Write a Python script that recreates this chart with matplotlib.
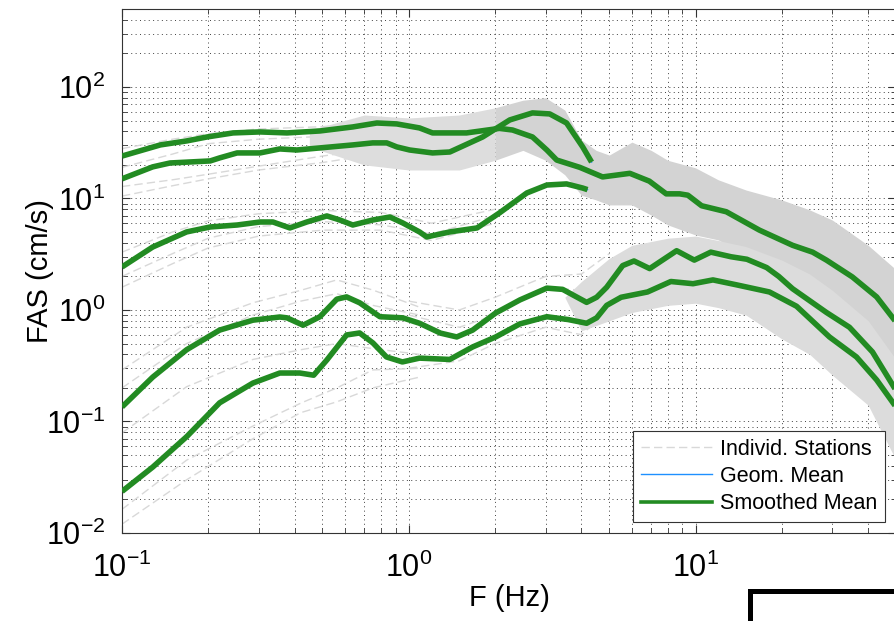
import matplotlib
matplotlib.use("Agg")
import matplotlib.pyplot as plt
from matplotlib.lines import Line2D
from matplotlib.ticker import LogLocator, LogFormatterSciNotation, NullFormatter

plt.rcParams['font.family'] = ['Liberation Sans', 'DejaVu Sans']
plt.rcParams['axes.unicode_minus'] = False

# smoothed means (Hz, cm/s)
f_a = [0.1, 0.136, 0.168, 0.198, 0.244, 0.303, 0.376, 0.49, 0.638, 0.774, 0.908, 1.09, 1.21, 1.59, 2.07,
       2.3, 2.7, 3.03, 3.28, 3.95, 4.74, 5.9, 6.9, 7.9, 8.8, 9.4, 10.5, 12.8, 16.7, 21.8, 25.6, 28.6,
       35.2, 42.8, 50]
fas_a = [24, 30.2, 32.8, 35.6, 38.7, 39.5, 38.7, 40.3, 43.8, 47.5, 46.6, 42.9, 38.7, 38.7, 42.5,
         41.1, 35.6, 27.2, 22.1, 19.0, 15.6, 16.8, 14.3, 11.0, 11.0, 10.7, 8.6, 7.6, 5.2, 3.8, 3.3, 2.8,
         1.98, 1.31, 0.78]

f_b = [0.1, 0.128, 0.147, 0.203, 0.219, 0.252, 0.303, 0.355, 0.407, 0.49, 0.638, 0.749, 0.838, 0.908,
       1.007, 1.21, 1.39, 1.81, 2.25, 2.7, 3.1, 3.55, 4.04, 4.34]
fas_b = [15, 19.2, 20.8, 21.7, 23.1, 25.6, 25.6, 27.8, 27.2, 28.4, 30.2, 31.5, 31.5, 29.0,
         27.2, 25.6, 26.1, 35.6, 50.6, 58.5, 57.3, 47.5, 29.0, 21.2]

f_c = [0.1, 0.128, 0.168, 0.203, 0.252, 0.303, 0.336, 0.385, 0.441, 0.518, 0.575, 0.638, 0.749, 0.859,
       0.953, 1.09, 1.155, 1.39, 1.73, 2.07, 2.58, 3.03, 3.55, 4.04, 4.2]
fas_c = [2.43, 3.67, 5.01, 5.55, 5.78, 6.15, 6.15, 5.44, 6.15, 6.97, 6.41, 5.78, 6.41, 6.82,
         6.03, 5.01, 4.52, 5.01, 5.44, 7.41, 11.2, 13.2, 13.5, 12.4, 12.0]

f_d = [0.1, 0.128, 0.168, 0.219, 0.286, 0.355, 0.376, 0.428, 0.49, 0.561, 0.607, 0.674, 0.793, 0.953,
       1.09, 1.29, 1.47, 1.67, 2.01, 2.44, 3.03, 3.44, 4.17, 4.52, 4.9, 5.57, 6.1, 6.92, 8.59, 9.9,
       11.3, 13.3, 15.1, 17.7, 19.5, 21.8, 28.6, 34.4, 41.4, 50]
fas_d = [0.135, 0.25, 0.44, 0.66, 0.81, 0.865, 0.85, 0.73, 0.87, 1.25, 1.31, 1.16, 0.87, 0.85,
         0.76, 0.62, 0.573, 0.66, 0.94, 1.23, 1.57, 1.53, 1.17, 1.3, 1.6, 2.5, 2.75, 2.35, 3.4, 2.8,
         3.3, 3.0, 2.85, 2.4, 2.0, 1.55, 0.95, 0.7, 0.42, 0.19]

f_e = [0.1, 0.128, 0.168, 0.219, 0.286, 0.355, 0.417, 0.466, 0.518, 0.607, 0.674, 0.75, 0.836, 0.95,
       1.09, 1.39, 1.67, 2.01, 2.44, 3.03, 3.6, 4.17, 4.52, 4.9, 5.5, 6.8, 8.2, 9.8, 11.5, 13.9,
       18.1, 22.5, 29.3, 36.4, 42.8, 50]
fas_e = [0.0236, 0.039, 0.073, 0.147, 0.221, 0.272, 0.272, 0.26, 0.356, 0.597, 0.622, 0.506, 0.379,
         0.342, 0.37, 0.36, 0.466, 0.573, 0.75, 0.87, 0.82, 0.76, 0.85, 1.1, 1.3, 1.45, 1.8, 1.72,
         1.86, 1.68, 1.45, 1.08, 0.573, 0.379, 0.236, 0.135]

# spread of individual stations where they form a dense band
f_band_soft = [0.45, 0.7, 1.0, 1.5, 2.0]
band_soft_top = [41, 56, 52.7, 56, 65]
band_soft_bot = [29, 20, 18, 18, 22]

f_band_hi = [2.0, 2.5, 3.0, 3.5, 4.0, 4.5, 5.0, 6.0, 7.0, 8.0, 10, 12, 15, 20, 25, 30, 40, 50]
band_hi_top = [65, 76, 80, 62, 33.5, 27, 24.5, 32, 27, 22, 18.8, 14.7, 11.9, 9.7, 7.9, 6.4, 3.8, 2.3]
band_hi_bot = [22, 27, 22, 16.3, 10.7, 9.7, 8.75, 8.75, 7.1, 5.8, 4.7, 4.25, 3.1, 2.3, 1.67, 1.23,
               0.54, 0.1]

f_band_lo = [3.5, 4, 5, 6, 8, 10, 12, 15, 20, 25, 30, 40, 50]
band_lo_top = [1.3, 1.8, 2.9, 3.8, 4.4, 4.6, 4.2, 3.7, 2.8, 2.1, 1.5, 0.8, 0.36]
band_lo_bot = [1.3, 0.65, 0.8, 0.95, 1.1, 1.15, 1.05, 0.9, 0.55, 0.4, 0.26, 0.14, 0.045]

# a few individual station records at low frequency
f_st = [0.1, 0.15, 0.2, 0.3, 0.5, 0.7]
st_top = [[28, 34, 38, 42, 44, 48],
          [19, 25, 31, 34, 36, 40],
          [12.8, 14.7, 16.5, 19.5, 24, 27],
          [10.5, 13, 15, 18, 21, 24]]
f_st_c = [0.1, 0.15, 0.2, 0.3, 0.5, 0.8, 1.2, 2.0]
st_c = [[3.3, 5.0, 6.3, 7.3, 7.8, 7.5, 6.0, 8.0],
        [1.6, 2.6, 3.6, 4.6, 5.2, 5.2, 4.2, 6.0],
        [2.0, 3.2, 4.4, 5.6, 6.2, 5.8, 4.8, 7.0]]
f_st_de = [0.1, 0.168, 0.286, 0.42, 0.561, 0.749, 1.09]
st_de = [[0.29, 0.70, 1.16, 1.5, 1.86, 1.51, 1.06],
         [0.2, 0.5, 0.9, 1.2, 1.4, 1.1, 0.9],
         [0.079, 0.205, 0.36, 0.44, 0.5, 0.45, 0.4],
         [0.0163, 0.045, 0.091, 0.146, 0.2, 0.29, 0.3],
         [0.012, 0.03, 0.07, 0.12, 0.15, 0.2, 0.25]]
f_st_de2 = [1.0, 1.5, 2.0, 3.0, 4.0, 5.0]
st_de2 = [[0.9, 0.7, 0.9, 1.6, 1.5, 2.5],
          [0.3, 0.35, 0.5, 0.7, 0.6, 1.0],
          [1.2, 1.0, 1.3, 2.0, 2.1, 3.2]]

grey = '#d3d3d3'
green = '#228b22'
blue = '#1e90ff'

fig = plt.figure(figsize=(8.95, 6.21), dpi=100)
ax = fig.add_axes([122 / 895, 88 / 621, 774 / 895, 524 / 621])

for s in st_top:
    ax.plot(f_st, s, color='#d8d8d8', lw=1, dashes=(6, 3), zorder=1.5)
for s in st_c:
    ax.plot(f_st_c, s, color='#d8d8d8', lw=1, dashes=(6, 3), zorder=1.5)
for s in st_de:
    ax.plot(f_st_de, s, color='#d8d8d8', lw=1, dashes=(6, 3), zorder=1.5)
for s in st_de2:
    ax.plot(f_st_de2, s, color='#d8d8d8', lw=1, dashes=(6, 3), zorder=1.5)

ax.fill_between(f_band_soft, band_soft_bot, band_soft_top, color='#dddddd', lw=0, zorder=2)
ax.fill_between(f_band_hi, band_hi_bot, band_hi_top, color=grey, lw=0, zorder=2)
ax.fill_between(f_band_lo, band_lo_bot, band_lo_top, color='#dcdcdc', lw=0, zorder=2)

for f, v in [(f_a, fas_a), (f_b, fas_b), (f_c, fas_c), (f_d, fas_d), (f_e, fas_e)]:
    ax.plot(f, v, color=blue, lw=1, zorder=2.5)
    ax.plot(f, v, color=green, lw=4, solid_capstyle='butt', solid_joinstyle='round', zorder=3)

ax.set_xscale('log')
ax.set_yscale('log')
ax.set_xlim(0.1, 50)
ax.set_ylim(0.01, 500)

ax.xaxis.set_major_locator(LogLocator(base=10, numticks=10))
ax.yaxis.set_major_locator(LogLocator(base=10, numticks=10))
ax.xaxis.set_minor_locator(LogLocator(base=10, subs=range(2, 10), numticks=20))
ax.yaxis.set_minor_locator(LogLocator(base=10, subs=range(2, 10), numticks=20))
ax.xaxis.set_major_formatter(LogFormatterSciNotation())
ax.yaxis.set_major_formatter(LogFormatterSciNotation())
ax.xaxis.set_minor_formatter(NullFormatter())
ax.yaxis.set_minor_formatter(NullFormatter())

ax.grid(True, which='both', color='0.25', linestyle=(0, (1, 3.5)), lw=0.7)
ax.set_axisbelow(True)
ax.tick_params(which='both', direction='in', top=True, right=True, color='0.2')
ax.tick_params(which='major', length=6, labelsize=22)
ax.tick_params(axis='x', which='major', pad=14)
ax.tick_params(axis='y', which='major', pad=12)
ax.tick_params(which='minor', length=3.5)
for sp in ax.spines.values():
    sp.set_color('0.2')
    sp.set_linewidth(0.8)

ax.set_xlabel('F (Hz)', fontsize=21, labelpad=0)
ax.set_ylabel('FAS (cm/s)', fontsize=21, labelpad=-6)

handles = [Line2D([], [], color='#d8d8d8', lw=1, dashes=(6, 3)),
           Line2D([], [], color=blue, lw=1),
           Line2D([], [], color=green, lw=2.6)]
leg = ax.legend(handles, ['Individ. Stations', 'Geom. Mean', 'Smoothed Mean'],
                loc='lower right', bbox_to_anchor=(885 / 895, (621 - 522) / 621),
                bbox_transform=fig.transFigure, fontsize=15.5, frameon=True, fancybox=False,
                framealpha=1, edgecolor='0.2', handlelength=3.3, handletextpad=0.4,
                labelspacing=0.3, borderpad=0.35, borderaxespad=0)
leg.get_frame().set_linewidth(0.8)
leg.set_zorder(5)

# corner of the neighbouring panel
fig.add_artist(Line2D([750 / 895, 750 / 895, 1.0], [0, (621 - 591) / 621, (621 - 591) / 621],
                      transform=fig.transFigure, color='black', lw=3.6, solid_joinstyle='miter'))

fig.savefig('out.png', dpi=100)
